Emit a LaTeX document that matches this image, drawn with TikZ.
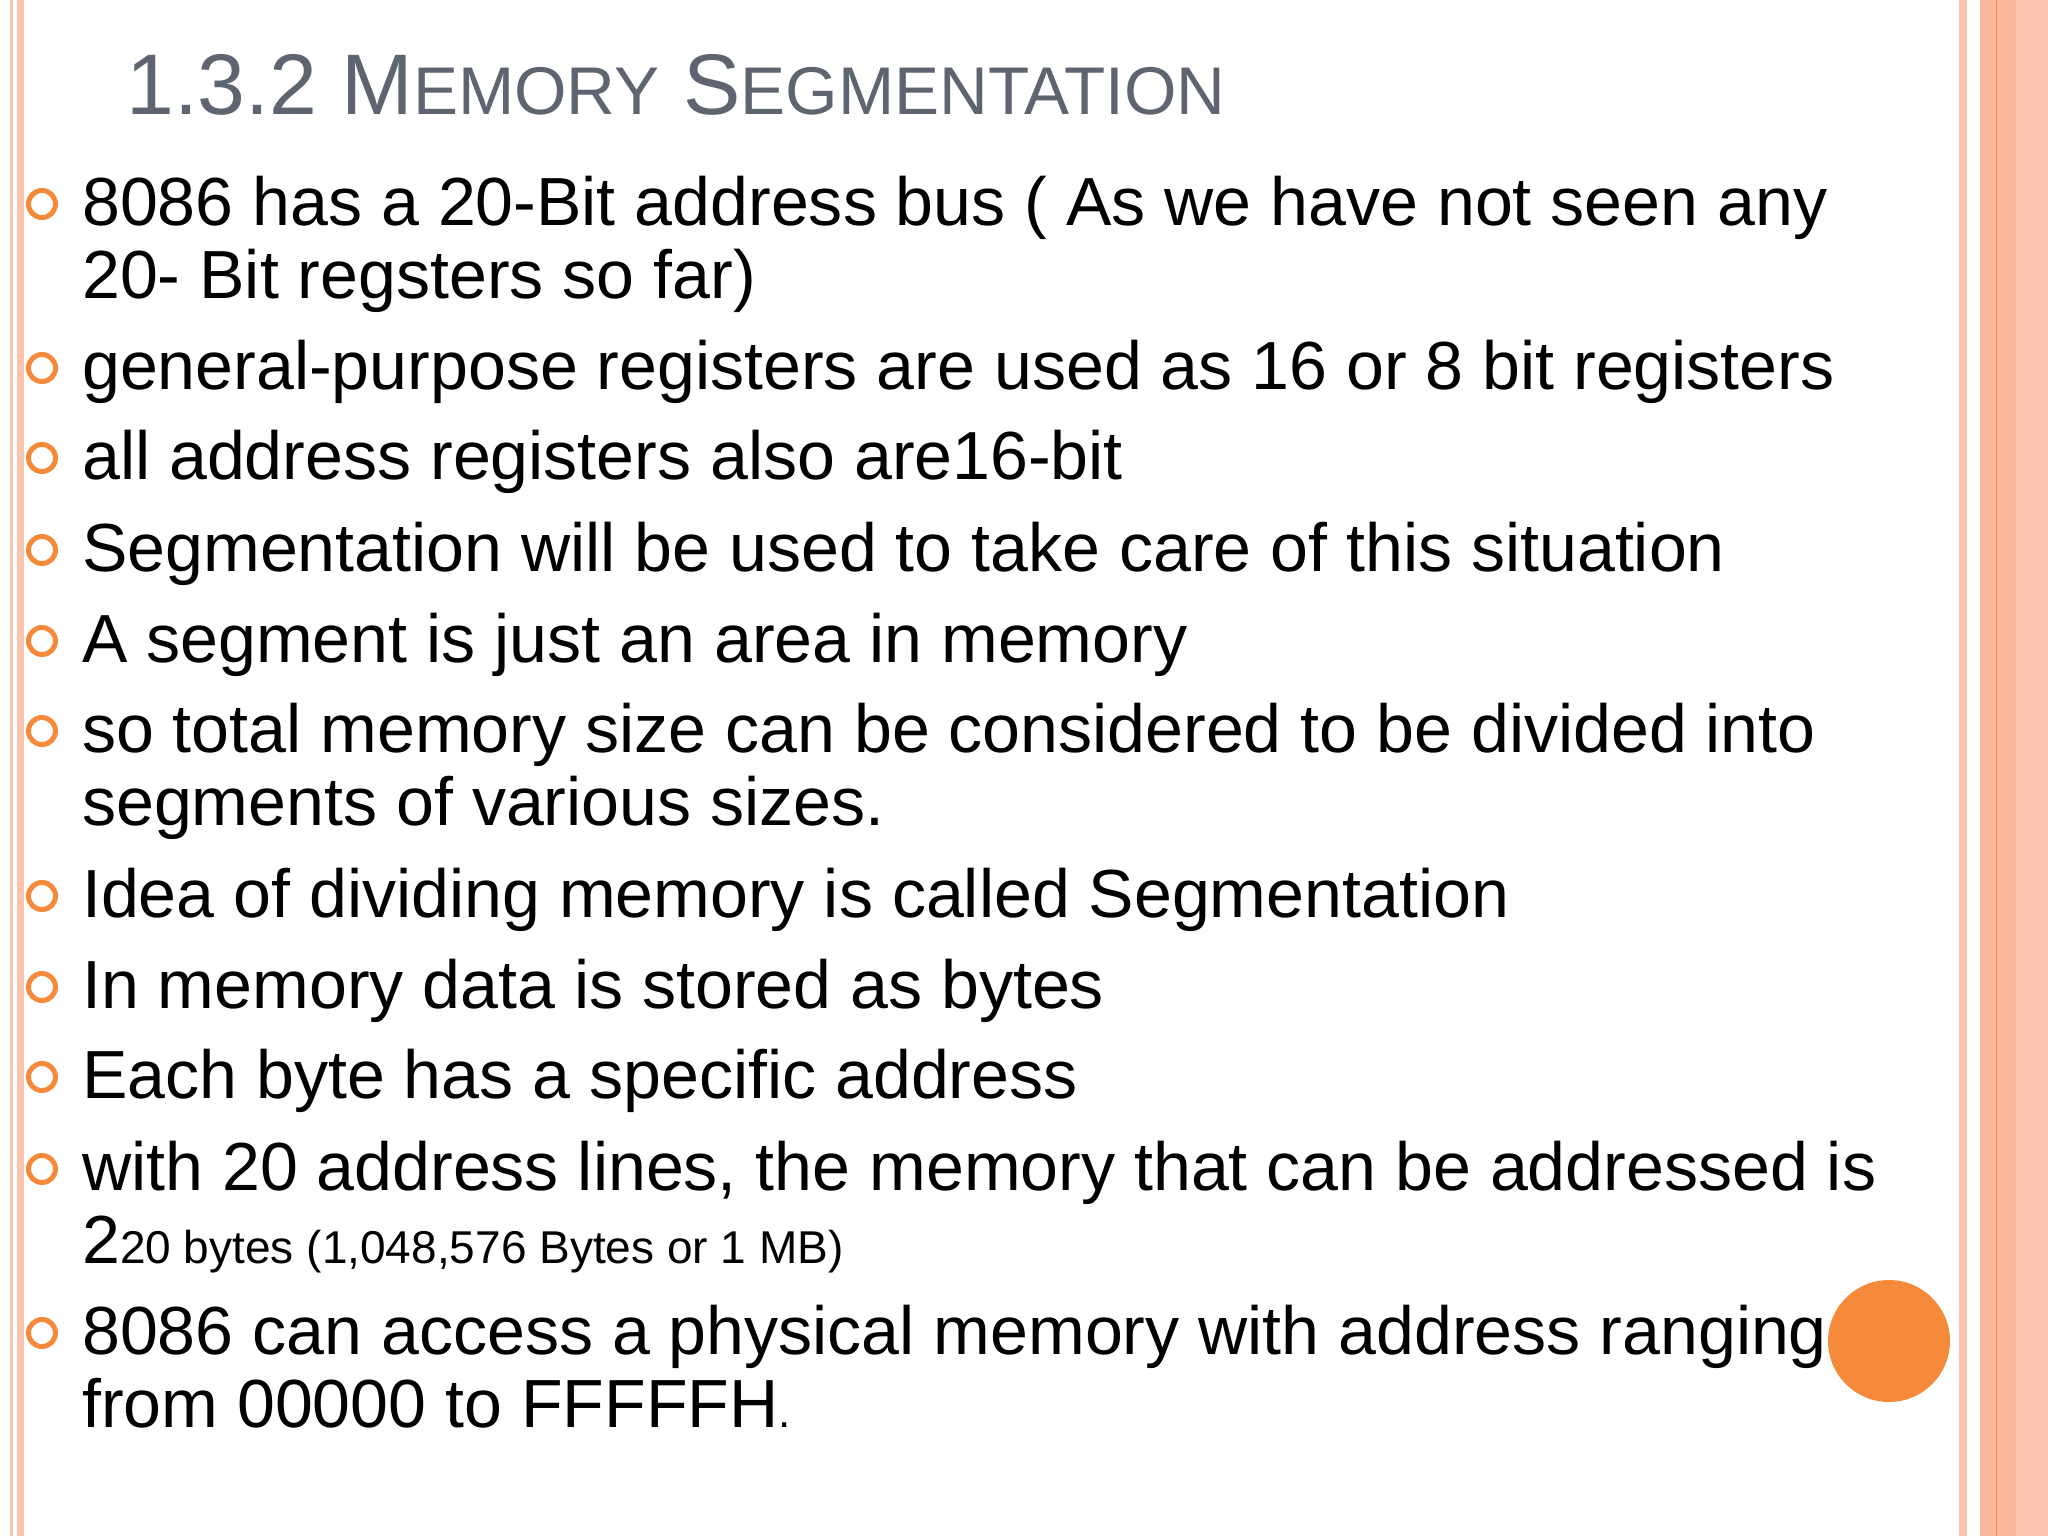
\documentclass[tikz,border=0pt]{standalone}
\usepackage{fontspec}
\setmainfont{Liberation Sans}
\begin{document}
\begin{tikzpicture}[x=1pt,y=-1pt,
  body/.style={anchor=base west,inner sep=0,font=\fontsize{68.1}{72}\selectfont},
  bul/.style={draw=bulorange,line width=5pt,circle,minimum size=27pt,inner sep=0}]
\definecolor{bulorange}{HTML}{F58A3A}
\definecolor{stripe}{HTML}{FBC4AE}
\definecolor{stripeD}{HTML}{F9B89E}
\definecolor{titlegray}{HTML}{5E6470}
\fill[white] (0,0) rectangle (2048,1536);
\useasboundingbox (0,0) rectangle (2048,1536);
\fill[stripe] (10,0) rectangle (13,1536);
\fill[stripe] (17,0) rectangle (24,1536);
\fill[stripe] (1959,0) rectangle (1967,1536);
\fill[stripe] (1980,0) rectangle (2048,1536);
\fill[stripeD] (1980,0) rectangle (2016,1536);
\fill[bulorange] (1995.5,0) rectangle (1997,1536);
\node[anchor=base west,inner sep=0,text=titlegray] (title) at (126,115)
 {\fontsize{86}{90}\selectfont 1.3.2 M{\fontsize{67.5}{70}\selectfont EMORY} S{\fontsize{67.5}{70}\selectfont EGMENTATION}};
\foreach \y/\n in {225/1,389/2,479/3,571/4,662/5,752/6,917/7,1008/8,1098/9,1190/10,1354/11}
  \node[bul] (b\n) at (42,\y-21) {};
\node[body] (t1) at (82,225) {8086 has a 20-Bit address bus ( As we have not seen any};
\node[body] (t1b) at (82,298) {20- Bit regsters so far)};
\node[body] (t2) at (82,389) {general-purpose registers are used as 16 or 8 bit registers};
\node[body] (t3) at (82,479) {all address registers also are16-bit};
\node[body] (t4) at (82,571) {Segmentation will be used to take care of this situation};
\node[body] (t5) at (82,662) {A segment is just an area in memory};
\node[body] (t6) at (82,752) {so total memory size can be considered to be divided into};
\node[body] (t6b) at (82,825) {segments of various sizes.};
\node[body] (t7) at (82,917) {Idea of dividing memory is called Segmentation};
\node[body] (t8) at (82,1008) {In memory data is stored as bytes};
\node[body] (t9) at (82,1098) {Each byte has a specific address};
\node[body] (t10) at (82,1190) {with 20 address lines, the memory that can be addressed is};
\node[body] (t10b) at (82,1263) {2{\fontsize{46}{48}\selectfont 20 bytes (1,048,576 Bytes or 1 MB)}};
\node[body] (t11) at (82,1354) {8086 can access a physical memory with address ranging};
\node[body] (t11b) at (82,1427) {from 00000 to FFFFFH{\fontsize{44}{46}\selectfont .}};
\fill[bulorange] (1889,1341) circle (61);
\end{tikzpicture}
\end{document}
